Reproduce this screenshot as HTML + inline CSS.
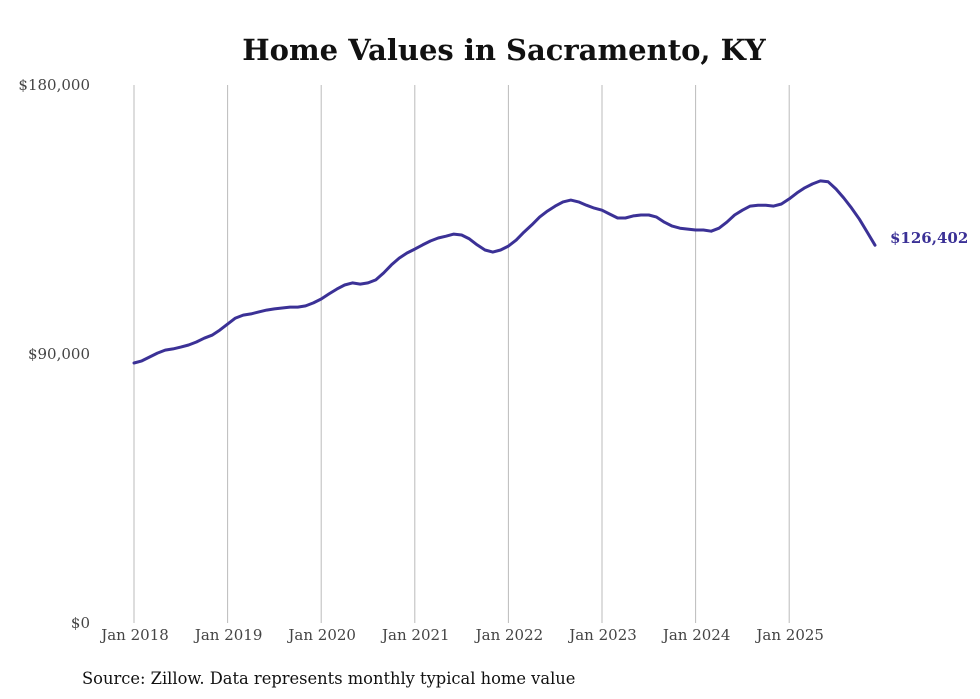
<!DOCTYPE html>
<html><head><meta charset="utf-8"><style>
body{margin:0;background:#fff;}
svg{display:block;}
</style></head><body>
<svg id="chart" width="980" height="699" xmlns="http://www.w3.org/2000/svg">
<text x="504" y="60" text-anchor="middle" font-family="DejaVu Serif, Liberation Serif, serif" font-weight="bold" font-size="29" fill="#111">Home Values in Sacramento, KY</text>
<g id="grid"></g>
<g id="yaxis"></g>
<g id="xaxis"></g>
<g id="series"></g>
<text x="82" y="684" font-family="DejaVu Serif, Liberation Serif, serif" font-size="16.3" fill="#111">Source: Zillow. Data represents monthly typical home value</text>
</svg>
<script>
const yearLabels = ["Jan 2018","Jan 2019","Jan 2020","Jan 2021","Jan 2022","Jan 2023","Jan 2024","Jan 2025"];
const yTicks = [0, 90000, 180000];
const yTickLabels = ["$0","$90,000","$180,000"];
const values2018 = [87.0,87.7,89.0,90.3,91.3,91.7,92.3,93.0,94.0,95.3,96.3,98.0];
const values2019 = [100.0,102.0,103.0,103.4,104.1,104.7,105.1,105.4,105.7,105.7,106.1,107.1];
const values2020 = [108.4,110.1,111.7,113.1,113.8,113.4,113.8,114.8,117.1,119.8,122.1,123.8];
const values2021 = [125.1,126.5,127.8,128.8,129.4,130.1,129.8,128.5,126.5,124.8,124.1,124.8];
const values2022 = [126.1,128.1,130.8,133.2,135.8,137.8,139.5,140.9,141.5,140.9,139.8,138.8];
const values2023 = [138.1,136.8,135.5,135.5,136.2,136.5,136.5,135.8,134.1,132.8,132.1,131.8];
const values2024 = [131.5,131.5,131.1,132.1,134.1,136.5,138.1,139.5,139.8,139.8,139.5,140.2];
const values2025 = [141.9,143.9,145.6,146.9,147.9,147.6,145.2,142.2,138.8,135.1,130.8,126.402];
const endLabel = "$126,402";

const NS = "http://www.w3.org/2000/svg";
const values = [].concat(values2018,values2019,values2020,values2021,values2022,values2023,values2024,values2025).map(v=>v*1000);
const x0 = 134, yearW = 93.6, yTop = 85, yBot = 623, yMax = 180000;
const xScale = i => x0 + i * yearW / 12;
const yScale = v => yBot - v / yMax * (yBot - yTop);
function mk(tag, attrs, parent){const e=document.createElementNS(NS,tag);for(const k in attrs)e.setAttribute(k,attrs[k]);parent.appendChild(e);return e;}
const grid=document.getElementById('grid'), xa=document.getElementById('xaxis'), ya=document.getElementById('yaxis'), ser=document.getElementById('series');
yearLabels.forEach((lab,i)=>{
  const x = xScale(i*12);
  const l = mk('line',{x1:x,x2:x,y1:yTop,y2:yBot,stroke:'#bbb','stroke-width':1},grid);
  
  
  const t = mk('text',{x:x+1,y:640,'text-anchor':'middle','font-family':'DejaVu Serif, Liberation Serif, serif','font-size':15,fill:'#444'},xa);
  t.textContent = lab;
  
  
});
yTicks.forEach((v,i)=>{
  const t = mk('text',{x:90,y:yScale(v)+5,'text-anchor':'end','font-family':'DejaVu Serif, Liberation Serif, serif','font-size':15,fill:'#444'},ya);
  t.textContent = yTickLabels[i];
  
  
});
const d = values.map((v,i)=>(i?'L':'M')+xScale(i).toFixed(1)+','+yScale(v).toFixed(1)).join(' ');
const p = mk('path',{d:d,fill:'none',stroke:'#3b3196','stroke-width':3,'stroke-linejoin':'round','stroke-linecap':'round'},ser);


const last = values.length-1;
const el = mk('text',{x:xScale(last)+15,y:yScale(values[last])-2,'font-family':'DejaVu Serif, Liberation Serif, serif','font-size':15,'font-weight':'bold',fill:'#3b3196'},ser);
el.textContent = endLabel;


</script>
</body></html>
